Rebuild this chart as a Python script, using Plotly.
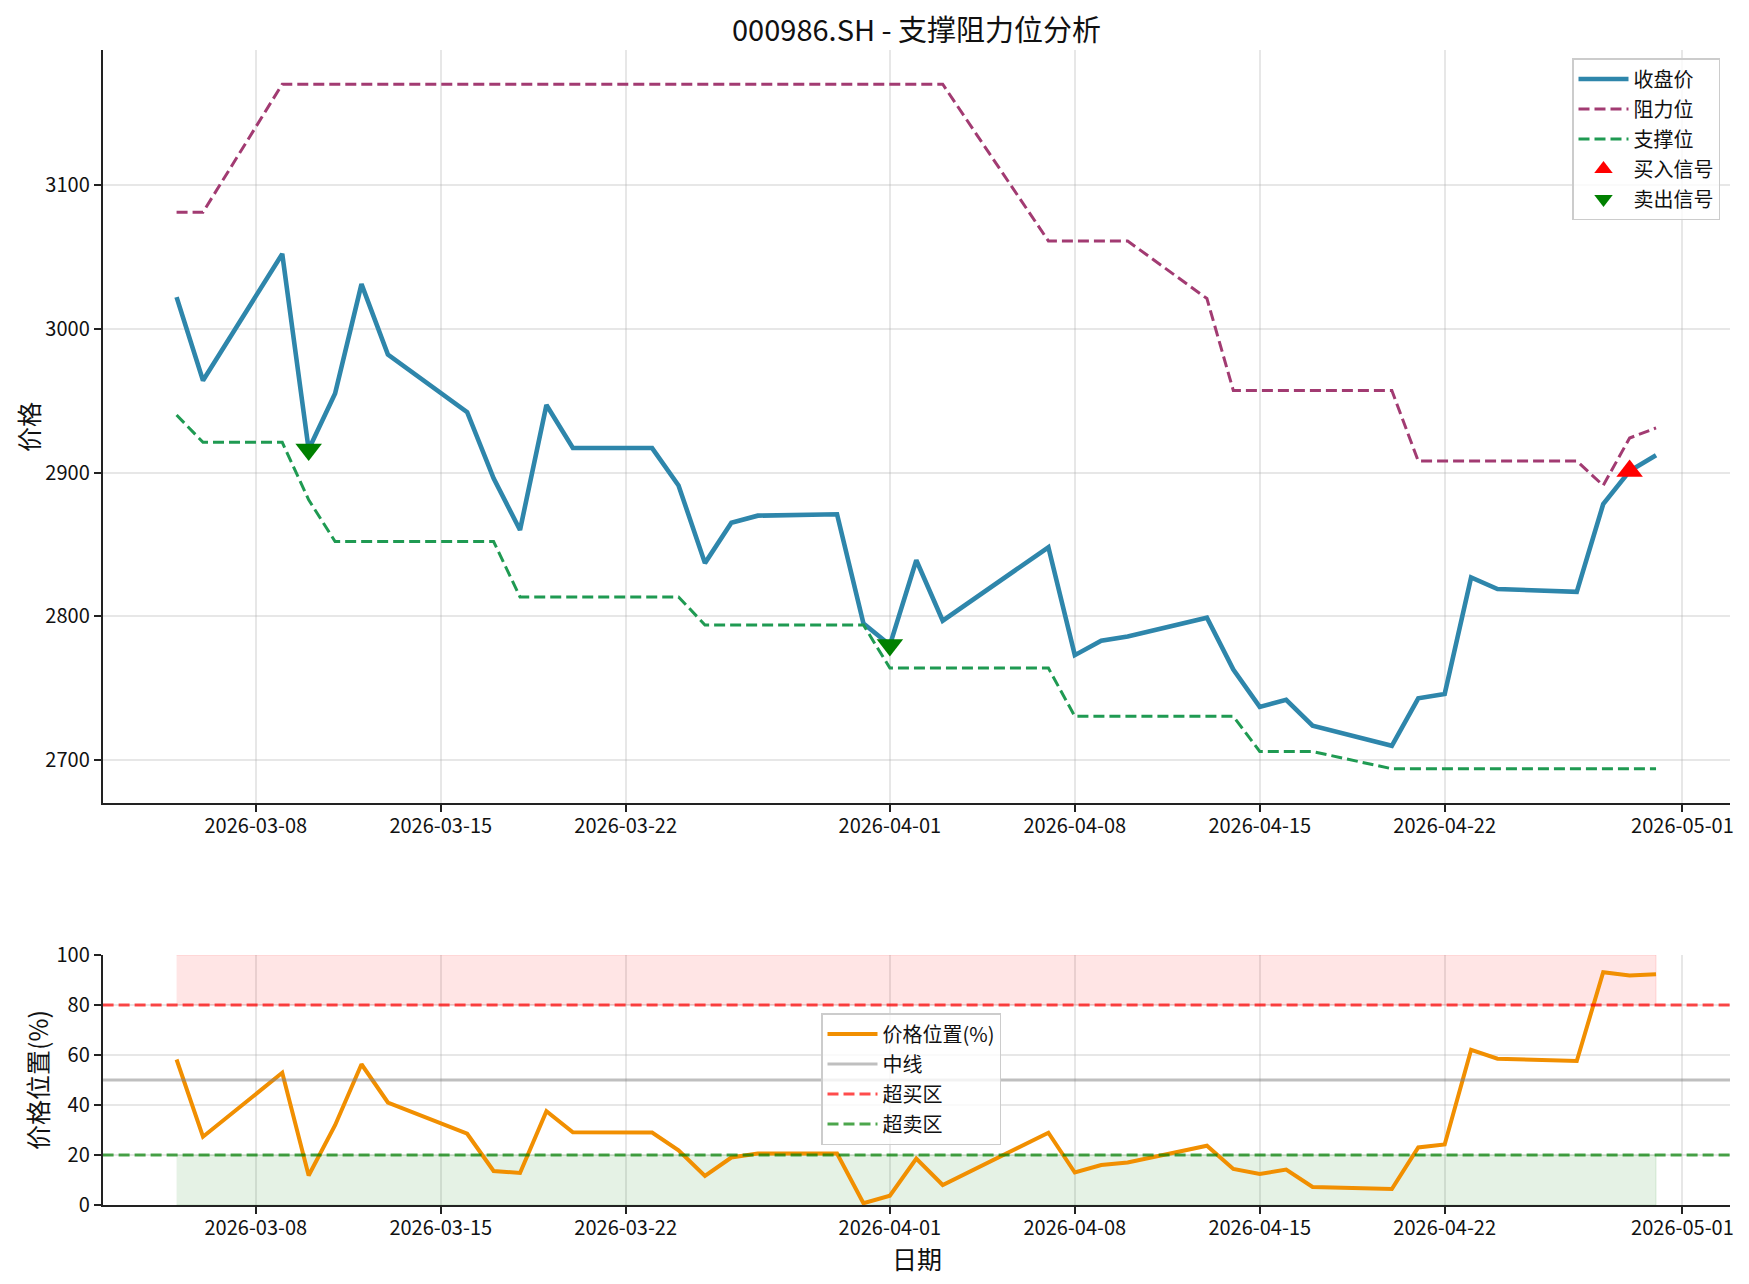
import plotly.graph_objects as go

# ---------------- data ----------------
dates = ['2026-03-05', '2026-03-06', '2026-03-09', '2026-03-10', '2026-03-11', '2026-03-12',
         '2026-03-13', '2026-03-16', '2026-03-17', '2026-03-18', '2026-03-19', '2026-03-20',
         '2026-03-23', '2026-03-24', '2026-03-25', '2026-03-26', '2026-03-27', '2026-03-30',
         '2026-03-31', '2026-04-01', '2026-04-02', '2026-04-03', '2026-04-07', '2026-04-08',
         '2026-04-09', '2026-04-10', '2026-04-13', '2026-04-14', '2026-04-15', '2026-04-16',
         '2026-04-17', '2026-04-20', '2026-04-21', '2026-04-22', '2026-04-23', '2026-04-24',
         '2026-04-27', '2026-04-28', '2026-04-29', '2026-04-30']

close = [3022, 2964, 3052, 2916, 2955, 3031, 2982, 2942, 2896, 2860, 2947, 2917,
         2917, 2891, 2837, 2865, 2870, 2871, 2795, 2780, 2839, 2797, 2848, 2773,
         2783, 2786, 2799, 2763, 2737, 2742, 2724, 2710, 2743, 2746, 2827, 2819,
         2817, 2878, 2901, 2912]

resistance = [3081, 3081, 3170, 3170, 3170, 3170, 3170, 3170, 3170, 3170, 3170, 3170,
              3170, 3170, 3170, 3170, 3170, 3170, 3170, 3170, 3170, 3170, 3061, 3061,
              3061, 3061, 3021, 2957, 2957, 2957, 2957, 2957, 2908, 2908, 2908, 2908,
              2908, 2891, 2924, 2931]

support = [2940, 2921, 2921, 2881, 2852, 2852, 2852, 2852, 2852, 2813.5, 2813.5, 2813.5,
           2813.5, 2813.5, 2794, 2794, 2794, 2794, 2794, 2764, 2764, 2764, 2764, 2730.5,
           2730.5, 2730.5, 2730.5, 2730.5, 2706, 2706, 2706, 2694, 2694, 2694, 2694, 2694,
           2694, 2694, 2694, 2694]

position = [58.2, 27.3, 52.9, 11.8, 31.9, 56.3, 41.0, 28.5, 13.6, 12.8, 37.5, 29.1,
            29.0, 21.9, 11.6, 19.0, 20.6, 20.6, 0.7, 3.7, 18.6, 8.0, 28.9, 13.0,
            16.0, 17.0, 23.7, 14.4, 12.4, 14.2, 7.2, 6.4, 23.0, 24.2, 62.1, 58.5,
            57.6, 93.1, 91.8, 92.3]

buy_dates = ['2026-04-29']
sell_dates = ['2026-03-10', '2026-04-01']

x_tick_vals = ['2026-03-08', '2026-03-15', '2026-03-22', '2026-04-01',
               '2026-04-08', '2026-04-15', '2026-04-22', '2026-05-01']
y_ticks_top = [2700, 2800, 2900, 3000, 3100]
y_ticks_bottom = [0, 20, 40, 60, 80, 100]
x_range = ['2026-03-02 04:48', '2026-05-02 19:12']

overbought, midline, oversold = 80, 50, 20

buy_vals = [close[dates.index(d)] for d in buy_dates]
sell_vals = [close[dates.index(d)] for d in sell_dates]

lo = min(min(support), min(close))
hi = max(max(resistance), max(close))
pad = (hi - lo) * 0.05
y_range_top = [lo - pad, hi + pad]

FONT = "Noto Sans CJK SC"
W, H = 1749, 1284

fig = go.Figure()

# ---------------- top panel ----------------
fig.add_trace(go.Scatter(x=dates, y=close, mode='lines', name='收盘价',
                         line=dict(color='#2E86AB', width=4.6),
                         xaxis='x', yaxis='y', legend='legend', legendgroup='a'))
fig.add_trace(go.Scatter(x=dates, y=resistance, mode='lines', name='阻力位',
                         line=dict(color='#A23B72', width=3, dash='11px,5px'),
                         xaxis='x', yaxis='y', legend='legend', legendgroup='b'))
fig.add_trace(go.Scatter(x=dates, y=support, mode='lines', name='支撑位',
                         line=dict(color='#1F9A52', width=3, dash='11px,5px'),
                         xaxis='x', yaxis='y', legend='legend', legendgroup='c'))
fig.add_trace(go.Scatter(x=buy_dates, y=buy_vals, mode='markers', name='买入信号',
                         marker=dict(symbol='triangle-up', size=23, color='red'),
                         xaxis='x', yaxis='y', legend='legend', legendgroup='d'))
fig.add_trace(go.Scatter(x=sell_dates, y=sell_vals, mode='markers', name='卖出信号',
                         marker=dict(symbol='triangle-down', size=23, color='green'),
                         xaxis='x', yaxis='y', legend='legend', legendgroup='e'))

# ---------------- bottom panel ----------------
fig.add_trace(go.Scatter(x=[dates[0], dates[-1], dates[-1], dates[0]],
                         y=[overbought, overbought, 100, 100], mode='lines', fill='toself',
                         fillcolor='rgba(255,0,0,0.1)', line=dict(color='rgba(255,0,0,0.12)', width=1),
                         showlegend=False, hoverinfo='skip', xaxis='x2', yaxis='y2'))
fig.add_trace(go.Scatter(x=[dates[0], dates[-1], dates[-1], dates[0]],
                         y=[0, 0, oversold, oversold], mode='lines', fill='toself',
                         fillcolor='rgba(0,128,0,0.1)', line=dict(color='rgba(0,128,0,0.12)', width=1),
                         showlegend=False, hoverinfo='skip', xaxis='x2', yaxis='y2'))
fig.add_trace(go.Scatter(x=dates, y=position, mode='lines', name='价格位置(%)',
                         line=dict(color='#F18F01', width=4),
                         xaxis='x2', yaxis='y2', legend='legend2', legendgroup='f'))
fig.add_trace(go.Scatter(x=x_range, y=[midline, midline], mode='lines', name='中线',
                         line=dict(color='rgba(128,128,128,0.5)', width=3),
                         xaxis='x2', yaxis='y2', legend='legend2', legendgroup='g'))
fig.add_trace(go.Scatter(x=x_range, y=[overbought, overbought], mode='lines', name='超买区',
                         line=dict(color='rgba(255,0,0,0.7)', width=3, dash='11px,5px'),
                         xaxis='x2', yaxis='y2', legend='legend2', legendgroup='h'))
fig.add_trace(go.Scatter(x=x_range, y=[oversold, oversold], mode='lines', name='超卖区',
                         line=dict(color='rgba(0,128,0,0.7)', width=3, dash='11px,5px'),
                         xaxis='x2', yaxis='y2', legend='legend2', legendgroup='i'))

axis_common = dict(
    automargin=False,
    showline=True, linecolor='#222222', linewidth=1.7, mirror=False,
    ticks='outside', ticklen=7, tickwidth=1.7, tickcolor='#222222',
    showgrid=True, gridcolor='rgba(176,176,176,0.3)', gridwidth=1.6,
    zeroline=False, tickfont=dict(family=FONT, size=20, color='#111111'),
)

x_dom = [102.6 / W, 1730 / W]
legend_common = dict(bgcolor='rgba(255,255,255,0.8)', bordercolor='#cccccc', borderwidth=1.5,
                     font=dict(family=FONT, size=20, color='#111111'),
                     itemwidth=50, tracegroupgap=1)
fig.update_layout(
    template='none',
    width=W, height=H,
    margin=dict(l=0, r=0, t=0, b=0, pad=0, autoexpand=False),
    paper_bgcolor='white', plot_bgcolor='white',
    font=dict(family=FONT, size=20, color='#111111'),
    xaxis=dict(domain=x_dom, anchor='y', type='date', range=x_range, ticklabelstandoff=-3,
               tickvals=x_tick_vals, ticktext=x_tick_vals, **axis_common),
    yaxis=dict(domain=[1 - 803 / H, 1 - 50 / H], anchor='x', range=y_range_top,
               tickvals=y_ticks_top, **axis_common),
    xaxis2=dict(domain=x_dom, anchor='y2', type='date', range=x_range, ticklabelstandoff=-3,
                tickvals=x_tick_vals, ticktext=x_tick_vals, **axis_common),
    yaxis2=dict(domain=[1 - 1205 / H, 1 - 955 / H], anchor='x2', range=[0, 100],
                tickvals=y_ticks_bottom, **axis_common),
    legend=dict(x=1720 / W, y=1 - 58 / H, xanchor='right', yanchor='top', **legend_common),
    legend2=dict(x=821 / W, y=1 - 1013 / H, xanchor='left', yanchor='top', **legend_common),
    annotations=[
        dict(text='000986.SH - 支撑阻力位分析', xref='paper', yref='paper',
             x=(102.6 + 1730) / 2 / W, y=1 - 28 / H, xanchor='center', yanchor='middle',
             showarrow=False, font=dict(family=FONT, size=29, color='#111111')),
        dict(text='价格', xref='paper', yref='paper', x=28 / W, y=1 - 427 / H,
             xanchor='center', yanchor='middle', textangle=-90, showarrow=False,
             font=dict(family=FONT, size=25, color='#111111')),
        dict(text='价格位置(%)', xref='paper', yref='paper', x=37 / W, y=1 - 1080 / H,
             xanchor='center', yanchor='middle', textangle=-90, showarrow=False,
             font=dict(family=FONT, size=25, color='#111111')),
        dict(text='日期', xref='paper', yref='paper', x=917 / W, y=1 - 1258 / H,
             xanchor='center', yanchor='middle', showarrow=False,
             font=dict(family=FONT, size=25, color='#111111')),
    ],
)

fig.write_html('out.html')
